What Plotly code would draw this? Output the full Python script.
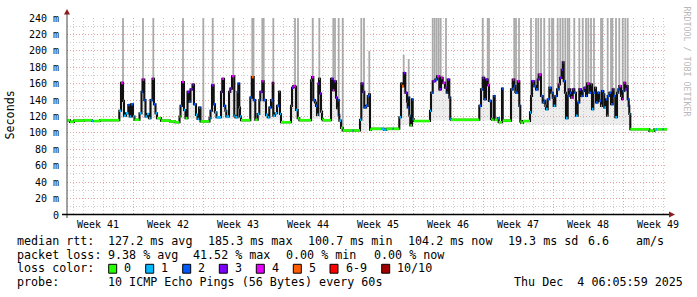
import numpy as np
import plotly.graph_objects as go

# ---------------- data (time in days since Mon 2025-10-06 00:00) ----------------
day = [
    0.34, 0.67, 1.07, 2.07, 2.87, 3.02, 3.67, 5.60, 5.77, 5.97,
    6.07, 6.27, 6.50, 6.64, 6.77, 6.97, 7.12, 7.62, 7.82, 7.92,
    8.10, 8.22, 8.37, 8.57, 8.72, 8.92, 9.07, 9.22, 9.37, 9.77,
    10.67, 11.17, 11.62, 11.72, 11.87, 12.07, 12.22, 12.42, 12.57, 12.72,
    12.92, 13.07, 13.27, 13.42, 13.57, 13.72, 14.62, 14.72, 14.87, 15.04,
    15.17, 15.32, 15.77, 15.90, 16.07, 16.20, 16.30, 16.57, 16.70, 16.87,
    17.10, 17.20, 17.42, 17.50, 17.60, 17.67, 17.77, 18.70, 18.85, 19.04,
    19.20, 19.44, 19.60, 19.70, 19.90, 20.04, 20.27, 20.44, 20.60, 20.77,
    20.94, 21.00, 21.17, 21.37, 21.57, 21.67, 21.77, 22.77, 22.87, 23.00,
    23.20, 23.27, 23.44, 23.60, 24.77, 24.87, 25.00, 25.17, 25.27, 25.37,
    25.50, 25.57, 25.67, 25.77, 25.87, 25.94, 26.77, 26.94, 27.10, 27.27,
    27.37, 27.44, 27.54, 27.60, 27.77, 27.94, 28.94, 29.04, 29.67, 29.80,
    29.94, 30.10, 30.27, 30.44, 30.57, 30.67, 30.77, 31.77, 32.07, 32.30,
    32.94, 33.04, 33.60, 33.77, 33.87, 34.04, 34.20, 34.37, 34.44, 34.54,
    34.60, 34.70, 34.87, 34.94, 35.04, 36.67, 36.77, 36.94, 37.20, 37.37,
    37.60, 37.77, 37.94, 38.17, 38.34, 38.44, 38.60, 38.70, 38.77, 41.60,
    41.77, 41.94, 42.10, 42.27, 42.44, 42.57, 42.77, 42.87, 43.04, 43.14,
    43.44, 43.54, 43.87, 43.94, 44.77, 44.94, 45.10, 45.20, 45.27, 45.44,
    45.60, 45.70, 45.77, 45.97, 46.67, 46.77, 46.87, 47.10, 47.27, 47.44,
    47.54, 47.77, 47.94, 48.10, 48.20, 48.27, 48.44, 48.60, 48.77, 48.94,
    49.04, 49.20, 49.37, 49.54, 49.67, 49.84, 49.94, 50.04, 50.17, 50.27,
    50.44, 50.54, 50.67, 50.77, 50.94, 51.10, 51.27, 51.44, 51.60, 51.77,
    51.94, 52.10, 52.27, 52.37, 52.60, 52.77, 52.87, 53.00, 53.17, 53.27,
    53.44, 53.60, 53.77, 53.87, 54.00, 54.10, 54.27, 54.37, 54.44, 54.60,
    54.77, 54.94, 55.04, 55.20, 55.37, 55.50, 55.60, 55.77, 55.87, 55.94,
    56.10, 56.20, 56.34, 56.44, 56.54, 56.60, 56.70, 58.60, 59.10, 59.27,
    59.37, 59.94, 60.04,
]

median_ms = [
    115.5, 113.5, 115, 115.5, 114.5, 114.5, 115.5, 127, 161, 139,
    121, 124, 134, 120, 135, 120, 116, 124, 150, 165,
    140, 120, 123, 118, 140, 166, 135, 124, 118, 115,
    114, 113, 120, 133, 162, 128, 118, 150, 138, 153,
    159, 135, 122, 117, 131, 114, 118, 127, 158, 135,
    125, 119, 150, 166, 133, 127, 120, 150, 154, 169,
    121, 119, 150, 160, 131, 120, 115.5, 143, 168, 140,
    116, 123, 140, 150, 163, 140, 122, 119, 131, 140,
    161, 121, 124, 133, 150, 123, 113, 133, 155, 157,
    156, 128, 118, 115.5, 164, 168, 140, 137, 133, 122,
    160, 166, 148, 126, 117, 115.5, 166, 152, 163, 143,
    130, 140, 122, 115, 106, 103, 103, 103, 116, 160,
    150, 131, 133, 145, 147, 104, 105, 105, 104, 105,
    105, 105, 119, 160, 157, 173, 149, 138, 131, 143,
    121, 109, 141, 117, 114.5, 127, 149, 163, 165, 169,
    153, 167, 161, 155, 149, 165, 143, 117, 116, 133,
    153, 167, 141, 165, 158, 139, 117, 116, 145, 116,
    118, 113, 154, 115, 153, 165, 157, 150, 149, 163,
    133, 114, 112.5, 114.5, 125, 145, 163, 157, 153, 165,
    171, 145, 137, 139, 133, 129, 141, 155, 149, 143,
    133, 145, 153, 159, 167, 177, 186, 163, 149, 118,
    145, 153, 149, 143, 153, 149, 121, 137, 153, 145,
    151, 155, 145, 160, 149, 159, 129, 149, 155, 137,
    149, 139, 133, 151, 147, 131, 141, 121, 145, 149,
    135, 153, 145, 119, 149, 153, 157, 145, 141, 151,
    161, 153, 157, 141, 133, 123, 104.5, 102.5, 104.5, 104.5,
    104.5, 104.5, 104.5,
]

loss = [
    0, 0, 0, 0, 1, 0, 0, 1, 4, 2,
    1, 1, 2, 1, 2, 1, 0, 1, 2, 4,
    2, 1, 1, 1, 2, 4, 2, 1, 0, 0,
    0, 0, 0, 2, 4, 1, 0, 3, 2, 3,
    3, 2, 1, 1, 2, 0, 1, 2, 3, 2,
    1, 1, 3, 4, 2, 1, 1, 3, 3, 4,
    1, 1, 2, 2, 1, 1, 0, 2, 5, 2,
    0, 1, 2, 3, 4, 2, 1, 1, 2, 2,
    4, 1, 1, 2, 2, 1, 0, 2, 3, 4,
    2, 1, 0, 0, 4, 4, 2, 2, 2, 1,
    3, 4, 3, 1, 0, 0, 3, 4, 3, 3,
    2, 2, 2, 1, 0, 0, 1, 0, 1, 3,
    3, 2, 2, 2, 2, 0, 0, 1, 1, 0,
    1, 0, 1, 3, 5, 3, 3, 2, 2, 2,
    1, 0, 2, 1, 0, 1, 2, 3, 2, 4,
    3, 4, 4, 3, 2, 3, 2, 1, 0, 2,
    2, 3, 2, 3, 4, 2, 1, 0, 2, 0,
    1, 0, 2, 0, 2, 4, 2, 2, 2, 4,
    2, 0, 0, 0, 1, 2, 3, 2, 2, 3,
    4, 2, 2, 2, 1, 1, 2, 2, 2, 2,
    1, 2, 2, 4, 3, 3, 3, 2, 2, 1,
    2, 3, 2, 4, 3, 2, 1, 2, 3, 2,
    2, 3, 2, 4, 2, 2, 1, 2, 4, 2,
    2, 2, 1, 2, 2, 1, 2, 1, 2, 2,
    2, 3, 2, 1, 2, 2, 4, 2, 4, 2,
    4, 3, 3, 2, 2, 1, 0, 0, 0, 1,
    0, 1, 0,
]

# lower edge of the smoke (fastest pings), step values
lo_day = [0.0, 5.6, 9.5, 11.7, 13.7, 14.6, 17.7, 18.7, 21.7, 22.8, 23.5, 24.7, 25.9,
          26.7, 27.7, 30.3, 30.6, 33.6, 35.0, 36.6, 38.7, 41.5, 43.0, 44.7, 45.7, 46.6, 56.7]
lo_ms = [113, 118, 113, 117, 113, 117, 113, 116, 112, 117, 113, 117, 113,
         116, 101, 112, 102, 110, 113, 115, 113, 115, 112, 117, 111, 110, 102]

# times where the slowest ping went beyond the top of the chart
clipped_spike_day = [
    5.97, 7.97, 9.00, 11.97, 14.00, 14.94, 17.00, 18.90, 19.02, 19.90, 20.04,
    21.00, 23.17, 23.47, 24.94, 25.60, 27.00, 27.17, 27.54, 27.94, 29.80, 30.07,
    36.94, 37.14, 37.34, 37.54, 37.74, 38.27,
    41.94, 42.44, 42.57, 45.10, 45.27, 45.57, 46.77, 47.27, 47.50, 47.77,
    48.10, 48.60, 48.87, 49.00, 49.44, 49.70, 49.94, 50.20, 50.44, 50.60,
    51.10, 51.60, 51.94, 52.27, 52.50, 52.77, 53.07, 53.77, 53.90, 54.44,
    54.77, 54.90, 55.27, 55.60, 55.94, 56.20, 56.44,
]
# smaller spikes that stay inside the chart
partial_spike_day = [30.60, 34.04, 34.54]
partial_spike_top = [200, 195, 190]

y_ticks = [0, 20, 40, 60, 80, 100, 120, 140, 160, 180, 200, 220, 240]
y_ticktext = ['0', '20 m', '40 m', '60 m', '80 m', '100 m', '120 m', '140 m',
              '160 m', '180 m', '200 m', '220 m', '240 m']
week_mid = [3.5, 10.5, 17.5, 24.5, 31.5, 38.5, 45.5, 52.5, 59.5]
week_labels = ['Week 41', 'Week 42', 'Week 43', 'Week 44', 'Week 45',
               'Week 46', 'Week 47', 'Week 48', 'Week 49']

loss_colors = ['#26ff00', '#00b8ff', '#0059ff', '#7e00ff', '#e600ff', '#ff5e00', '#ff0000', '#a10000']
loss_labels = ['0', '1', '2', '3', '4', '5', '6-9', '10/10']

row_rtt = ['median rtt:', '127.2 ms avg', '185.3 ms max', '100.7 ms min',
           '104.2 ms now', '19.3 ms sd', '6.6', 'am/s']
row_loss = ['packet loss:', '9.38 % avg', '41.52 % max', '0.00 % min', '0.00 % now']
row_color_title = 'loss color:'
row_probe = ['probe:', '10 ICMP Echo Pings (56 Bytes) every 60s',
             'Thu Dec\u00a0\u00a04 06:05:59 2025']

# ---------------- layout helpers ----------------
T_START, T_END = 0.37, 60.37
Y_MAX = 240
L_PX, R_PX, T_PX, B_PX = 67, 667, 16, 215
W, H = 697, 297
MONO = 'DejaVu Sans Mono'


def px_x(px):
    return (px - L_PX) / (R_PX - L_PX)


def px_y(py):
    return (B_PX - py) / (B_PX - T_PX)


def loss_bucket(n):
    if n <= 5:
        return n
    if n < 10:
        return 6
    return 7


fig = go.Figure()
d = np.array(day, float)
m = np.array(median_ms, float)
xs = np.append(d, T_END)
ys = np.append(m, m[-1])

# lower smoke band
idx = np.searchsorted(np.array(lo_day), d, side='right') - 1
lo = np.minimum(np.array(lo_ms, float)[idx], m)
fig.add_trace(go.Scatter(x=xs, y=np.append(lo, lo[-1]), mode='lines',
                         line=dict(width=0, shape='hv'), hoverinfo='skip'))
fig.add_trace(go.Scatter(x=xs, y=ys, mode='lines', line=dict(width=0, shape='hv'),
                         fill='tonexty', fillcolor='rgba(190,190,190,0.28)', hoverinfo='skip'))


def med_at(t):
    return m[max(np.searchsorted(d, t, side='right') - 1, 0)]


sx, sy = [], []
for t in clipped_spike_day:
    sx += [t, t, None]
    sy += [med_at(t), Y_MAX + 5, None]
for t, top in zip(partial_spike_day, partial_spike_top):
    sx += [t, t, None]
    sy += [med_at(t), top, None]
fig.add_trace(go.Scatter(x=sx, y=sy, mode='lines', line=dict(color='#aaaaaa', width=1.8),
                         hoverinfo='skip'))

# median (black connecting steps)
fig.add_trace(go.Scatter(x=xs, y=ys, mode='lines',
                         line=dict(color='#111111', width=2.1, shape='hv'), hoverinfo='skip'))

# median coloured by loss
for b, col in enumerate(loss_colors):
    cx, cy = [], []
    for i in range(len(d)):
        if loss_bucket(loss[i]) == b:
            cx += [d[i], xs[i + 1], None]
            cy += [m[i], m[i], None]
    if cx:
        fig.add_trace(go.Scatter(x=cx, y=cy, mode='lines', line=dict(color=col, width=2.6),
                                 hoverinfo='skip'))

MAJOR = '#e6a3a3'
MINOR = '#cccccc'
DASH = '1px,2px'

fig.update_layout(
    width=W, height=H,
    margin=dict(l=L_PX, r=W - R_PX, t=T_PX, b=H - B_PX, pad=0),
    paper_bgcolor='white', plot_bgcolor='white', showlegend=False,
    font=dict(family=MONO, size=10, color='black'),
    xaxis=dict(range=[T_START, T_END], tickmode='linear', tick0=0, dtick=7,
               showgrid=True, gridcolor=MAJOR, griddash=DASH, gridwidth=1,
               minor=dict(tickmode='linear', tick0=0, dtick=1, showgrid=True,
                          gridcolor=MINOR, griddash=DASH, gridwidth=1),
               showticklabels=False, ticks='', zeroline=False, showline=False),
    yaxis=dict(range=[0, Y_MAX], tickmode='array', tickvals=y_ticks, ticktext=y_ticktext,
               showgrid=True, gridcolor=MAJOR, griddash=DASH, gridwidth=1,
               minor=dict(tickmode='linear', tick0=0, dtick=10, showgrid=True,
                          gridcolor=MINOR, griddash=DASH, gridwidth=1),
               ticks='outside', ticklen=5, tickcolor='rgba(0,0,0,0)',
               tickfont=dict(family=MONO, size=10, color='black'),
               zeroline=False, showline=False),
)

shapes = []
# axes with arrows
shapes.append(dict(type='line', xref='paper', yref='paper', x0=px_x(67), x1=px_x(67),
                   y0=px_y(218), y1=px_y(10), line=dict(color='#444444', width=1)))
shapes.append(dict(type='line', xref='paper', yref='paper', x0=px_x(62), x1=px_x(670),
                   y0=px_y(214.5), y1=px_y(214.5), line=dict(color='black', width=1.6)))
shapes.append(dict(type='path', xref='paper', yref='paper',
                   path=f'M {px_x(64)} {px_y(12.5)} L {px_x(70)} {px_y(12.5)} L {px_x(67)} {px_y(7)} Z',
                   fillcolor='#8e1b1b', line=dict(width=0)))
shapes.append(dict(type='path', xref='paper', yref='paper',
                   path=f'M {px_x(669)} {px_y(211.5)} L {px_x(669)} {px_y(217.5)} L {px_x(675)} {px_y(214.5)} Z',
                   fillcolor='#8e1b1b', line=dict(width=0)))

annotations = []
for xv, lab in zip(week_mid, week_labels):
    annotations.append(dict(x=xv, y=px_y(225), xref='x', yref='paper', text=lab,
                            showarrow=False, xanchor='center', yanchor='middle',
                            font=dict(family=MONO, size=10, color='black')))


def text_at(px, py, txt, size=11.7, color='black', angle=0, xanchor='left'):
    annotations.append(dict(x=px_x(px), y=px_y(py), xref='paper', yref='paper', text=txt,
                            showarrow=False, xanchor=xanchor, yanchor='middle',
                            textangle=angle, borderpad=0,
                            font=dict(family=MONO, size=size, color=color)))


ROW_Y = [241.5, 255.2, 269.0, 282.7]
for px, txt in zip([16, 107.3, 207.3, 307.3, 407.3, 506.7, 587.3, 635], row_rtt):
    text_at(px, ROW_Y[0], txt)
for px, txt in zip([16, 107.3, 192.3, 285, 372.7], row_loss):
    text_at(px, ROW_Y[1], txt)
text_at(16, ROW_Y[2], row_color_title)
box_x = [108.7, 145.7, 182.7, 219.3, 256.3, 293.3, 330.0, 381.7]
for bx, col, lab in zip(box_x, loss_colors, loss_labels):
    shapes.append(dict(type='rect', xref='paper', yref='paper',
                       x0=px_x(bx), x1=px_x(bx + 8), y0=px_y(273.8), y1=px_y(264.8),
                       fillcolor=col, line=dict(color='black', width=1)))
    text_at(bx + 14.7, ROW_Y[2], lab)
for px, txt in zip([16, 107.3, 513.3], row_probe):
    text_at(px, ROW_Y[3], txt)

text_at(10.5, 114, 'Seconds', angle=-90, xanchor='center')
text_at(687, 60, 'RRDTOOL / TOBI OETIKER', size=8.3, color='#b8b8b8', angle=90, xanchor='center')

fig.update_layout(shapes=shapes, annotations=annotations)
fig.write_html('out.html')
